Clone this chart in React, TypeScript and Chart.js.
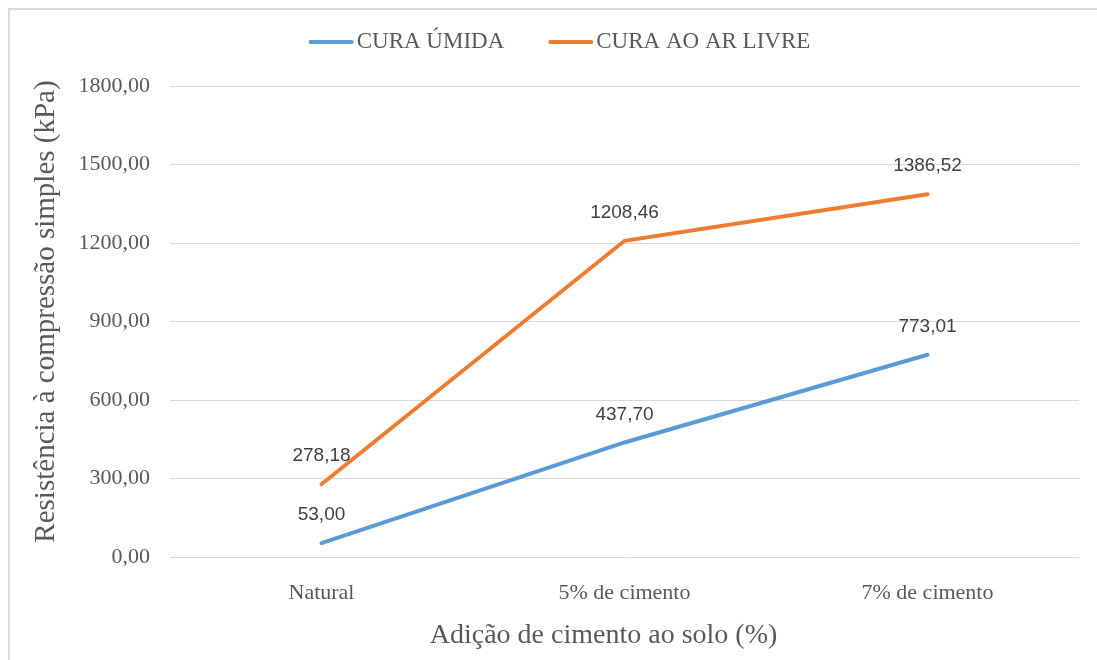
import React, { useEffect, useRef } from "react";
import { Chart, registerables } from "chart.js";

Chart.register(...registerables);

const categories = ["Natural", "5% de cimento", "7% de cimento"];
const seriesNames = ["CURA ÚMIDA", "CURA AO AR LIVRE"];
const curaUmida = [53.0, 437.7, 773.01];
const curaArLivre = [278.18, 1208.46, 1386.52];
const yTickValues = [0, 300, 600, 900, 1200, 1500, 1800];
const seriesColors = ["#5B9BD5", "#ED7D31"];
const xAxisTitle = "Adição de cimento ao solo (%)";
const yAxisTitle = "Resistência à compressão simples (kPa)";

const SERIF = "'Liberation Serif', 'Times New Roman', serif";
const SANS = "'Liberation Sans', Arial, sans-serif";
const fmt = (v: number) => v.toFixed(2).replace(".", ",");

const dataLabelPlugin = {
  id: "dataLabels",
  afterDatasetsDraw(chart: any) {
    const ctx = chart.ctx;
    ctx.save();
    ctx.font = `19px ${SANS}`;
    ctx.fillStyle = "#404040";
    ctx.textAlign = "center";
    ctx.textBaseline = "middle";
    chart.data.datasets.forEach((ds: any, i: number) => {
      const meta = chart.getDatasetMeta(i);
      meta.data.forEach((pt: any, j: number) => {
        ctx.fillText(fmt(ds.data[j]), pt.x, pt.y - 28);
      });
    });
    ctx.restore();
  },
};

const axisTitlePlugin = {
  id: "axisTitles",
  afterDraw(chart: any) {
    const ctx = chart.ctx;
    const ca = chart.chartArea;
    ctx.save();
    ctx.fillStyle = "#595959";
    ctx.textAlign = "center";
    ctx.textBaseline = "middle";
    ctx.font = `28px ${SERIF}`;
    ctx.fillText(xAxisTitle, (ca.left + ca.right) / 2 - 21, chart.height - 24);
    ctx.translate(36, (ca.top + ca.bottom) / 2 - 10);
    ctx.rotate(-Math.PI / 2);
    ctx.font = `29px ${SERIF}`;
    ctx.fillText(yAxisTitle, 0, 0);
    ctx.restore();
  },
};

const legendPlugin = {
  id: "customLegend",
  afterDraw(chart: any) {
    const ctx = chart.ctx;
    ctx.save();
    ctx.font = `23px ${SERIF}`;
    const lineW = 45;
    const gapText = 3;
    const gapItems = 44;
    const widths = chart.data.datasets.map(
      (ds: any) => lineW + gapText + ctx.measureText(ds.label).width
    );
    const total = widths.reduce((a: number, b: number) => a + b, 0) + gapItems * (widths.length - 1);
    let x = chart.width / 2 + 6 - total / 2;
    const y = 32;
    chart.data.datasets.forEach((ds: any, i: number) => {
      ctx.strokeStyle = ds.borderColor;
      ctx.lineWidth = 4;
      ctx.lineCap = "round";
      ctx.beginPath();
      ctx.moveTo(x + 2, y);
      ctx.lineTo(x + lineW - 2, y);
      ctx.stroke();
      ctx.fillStyle = "#595959";
      ctx.textAlign = "left";
      ctx.textBaseline = "middle";
      ctx.fillText(ds.label, x + lineW + gapText, y);
      x += widths[i] + gapItems;
    });
    ctx.restore();
  },
};

export default function App() {
  const ref = useRef<HTMLCanvasElement>(null);
  useEffect(() => {
    if (!ref.current) return;
    const chart = new Chart(ref.current, {
      type: "line",
      data: {
        labels: categories,
        datasets: [
          {
            label: seriesNames[0],
            data: curaUmida,
            borderColor: seriesColors[0],
            backgroundColor: seriesColors[0],
            borderWidth: 4,
            pointRadius: 0,
            borderCapStyle: "round",
            tension: 0,
          },
          {
            label: seriesNames[1],
            data: curaArLivre,
            borderColor: seriesColors[1],
            backgroundColor: seriesColors[1],
            borderWidth: 4,
            pointRadius: 0,
            borderCapStyle: "round",
            tension: 0,
          },
        ],
      },
      options: {
        responsive: false,
        animation: false,
        layout: { padding: { top: 76, right: 18, left: 0, bottom: 0 } },
        plugins: {
          legend: { display: false },
          tooltip: { enabled: false },
          title: { display: false },
        },
        scales: {
          x: {
            type: "category",
            offset: true,
            grid: { display: false },
            border: { display: false },
            ticks: {
              color: "#595959",
              font: { family: SERIF, size: 22 },
              padding: 15,
              maxRotation: 0,
            },
            afterFit(scale: any) {
              scale.height = 103;
            },
          },
          y: {
            min: 0,
            max: 1800,
            afterBuildTicks(scale: any) {
              scale.ticks = yTickValues.map((v) => ({ value: v }));
            },
            grid: { color: "#d9d9d9", lineWidth: 1, drawTicks: false },
            border: { display: false },
            ticks: {
              color: "#595959",
              font: { family: SERIF, size: 22 },
              padding: 20,
              callback: (v: any) => fmt(Number(v)),
            },
            afterFit(scale: any) {
              scale.width = 160;
            },
          },
        },
      },
      plugins: [dataLabelPlugin, axisTitlePlugin, legendPlugin],
    } as any);
    return () => chart.destroy();
  }, []);

  return (
    <div
      style={{
        position: "fixed",
        left: 8,
        top: 8,
        width: 1089,
        height: 652,
        boxSizing: "border-box",
        borderLeft: "2px solid #d9d9d9",
        borderTop: "2px solid #d9d9d9",
        background: "#ffffff",
      }}
    >
      <canvas ref={ref} width={1087} height={650} style={{ display: "block", width: 1087, height: 650 }} />
    </div>
  );
}
